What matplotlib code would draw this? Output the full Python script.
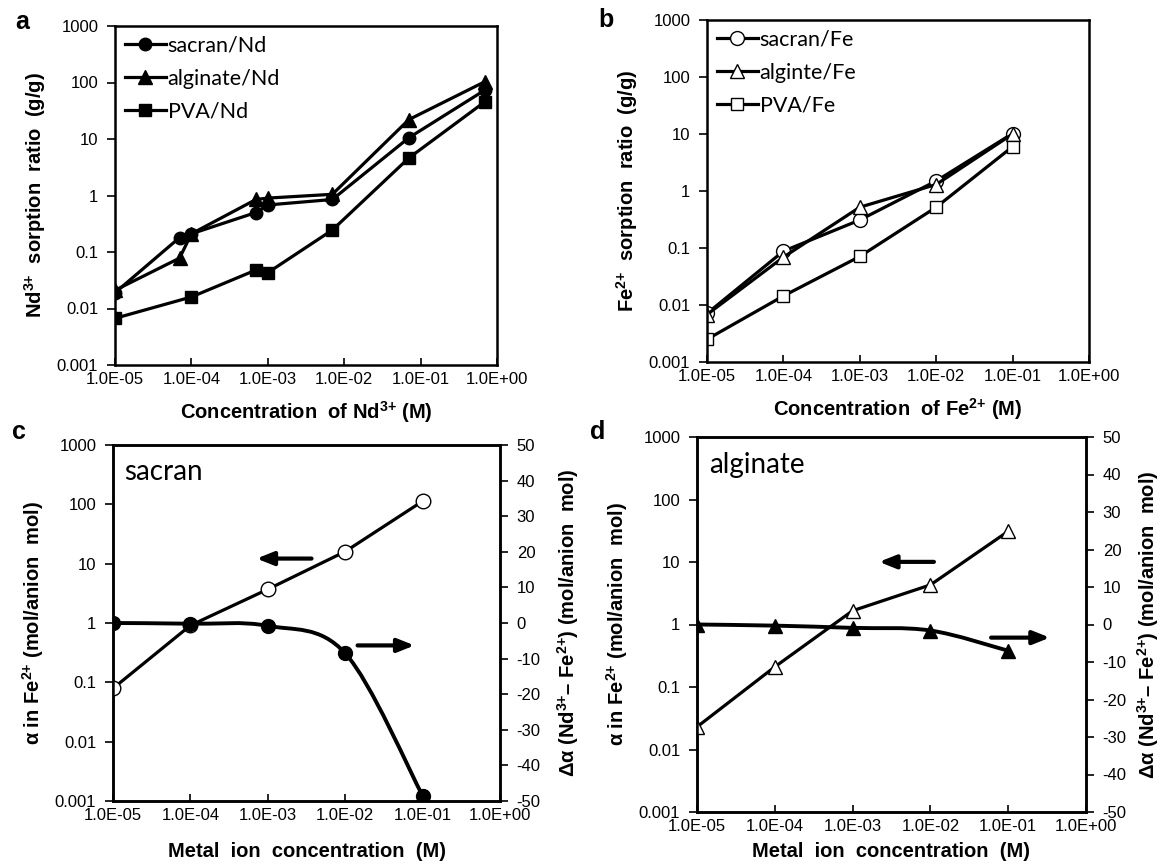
import numpy as np
import matplotlib
matplotlib.use("Agg")
import matplotlib.pyplot as plt
from matplotlib.path import Path
from matplotlib.patches import PathPatch
from matplotlib.ticker import FixedLocator, FixedFormatter

plt.rcParams['font.family'] = ['Liberation Sans', 'DejaVu Sans']
plt.rcParams['mathtext.fontset'] = 'custom'
plt.rcParams['mathtext.rm'] = 'Liberation Sans'
plt.rcParams['mathtext.bf'] = 'Liberation Sans:bold'
plt.rcParams['axes.unicode_minus'] = False

# ---- data ----
# panel a: Nd3+ sorption
nd_x = [1e-5, 7e-5, 1e-4, 7e-4, 1e-3, 7e-3, 7e-2, 7e-1]
sacran_nd = [0.019, 0.18, 0.21, 0.50, 0.68, 0.85, 10.5, 74]
alginate_nd = [0.021, 0.078, 0.21, 0.85, 0.90, 1.05, 22, 104]
pva_nd_x = [1e-5, 1e-4, 7e-4, 1e-3, 7e-3, 7e-2, 7e-1]
pva_nd = [0.0067, 0.016, 0.048, 0.043, 0.245, 4.6, 46]

# panel b: Fe2+ sorption
fe_x = [1e-5, 1e-4, 1e-3, 1e-2, 1e-1]
sacran_fe = [0.0071, 0.088, 0.31, 1.5, 10.2]
alginate_fe = [0.0068, 0.069, 0.52, 1.3, 10.0]
pva_fe = [0.0025, 0.0144, 0.071, 0.52, 6.0]

# panel c/d: alpha and delta alpha
metal_x = [1e-5, 1e-4, 1e-3, 1e-2, 1e-1]
sacran_alpha = [0.079, 0.91, 3.7, 16, 113]
sacran_dalpha = [0.0, -0.2, -0.8, -8.5, -48.5]
alginate_alpha = [0.023, 0.21, 1.66, 4.3, 31]
alginate_dalpha = [0.0, -0.3, -0.9, -1.6, -7.0]

x_ticks = [1e-5, 1e-4, 1e-3, 1e-2, 1e-1, 1e0]
x_labels = ['1.0E-05', '1.0E-04', '1.0E-03', '1.0E-02', '1.0E-01', '1.0E+00']
y_ticks = [1e-3, 1e-2, 1e-1, 1, 10, 100, 1000]
y_labels = ['0.001', '0.01', '0.1', '1', '10', '100', '1000']
r_ticks = list(range(-50, 51, 10))

W, H = 1159, 866
LW = 2.3
MS = 9
TICK_FS = 12
LAB_FS = 14.5
leg_font = ['Lato', 'DejaVu Sans']

fig = plt.figure(figsize=(W / 100, H / 100), dpi=100)


def px_axes(left, right, top, bottom):
    return fig.add_axes([left / W, 1 - bottom / H, (right - left) / W, (bottom - top) / H])


def style_log_axes(ax):
    ax.set_xscale('log')
    ax.set_yscale('log')
    ax.set_xlim(1e-5, 1e0)
    ax.set_ylim(1e-3, 1e3)
    ax.xaxis.set_major_locator(FixedLocator(x_ticks))
    ax.xaxis.set_major_formatter(FixedFormatter(x_labels))
    ax.xaxis.set_minor_locator(FixedLocator([]))
    ax.yaxis.set_major_locator(FixedLocator(y_ticks))
    ax.yaxis.set_major_formatter(FixedFormatter(y_labels))
    ax.yaxis.set_minor_locator(FixedLocator([]))
    ax.tick_params(axis='x', direction='in', length=5, width=1.2, labelsize=TICK_FS, pad=5)
    ax.tick_params(axis='y', direction='out', length=6, width=1.2, labelsize=TICK_FS, pad=6)
    for s in ax.spines.values():
        s.set_linewidth(1.8)


def smooth_path(xs, ys):
    # Excel-like smoothed line: Catmull-Rom converted to cubic Bezier in log-x space
    lx = np.log10(xs)
    y = np.asarray(ys, dtype=float)
    P = np.column_stack([lx, y])
    verts = [P[0]]
    codes = [Path.MOVETO]
    n = len(P)
    for i in range(n - 1):
        p0 = P[i - 1] if i > 0 else P[i]
        p1 = P[i]
        p2 = P[i + 1]
        p3 = P[i + 2] if i + 2 < n else P[i + 1]
        c1 = p1 + (p2 - p0) / 6.0
        c2 = p2 - (p3 - p1) / 6.0
        verts += [c1, c2, p2]
        codes += [Path.CURVE4] * 3
    verts = np.array(verts)
    verts[:, 0] = 10 ** verts[:, 0]
    return Path(verts, codes)


def sup(s):
    return r'$^{\mathbf{' + s[0] + '{' + s[1] + '}}}$'


leg_kw = dict(loc='upper left', frameon=False, prop={'family': leg_font, 'size': 15.5},
              handlelength=1.9, handletextpad=0.1, labelspacing=0.6,
              borderaxespad=0.15, borderpad=0.3, bbox_to_anchor=(0.0, 1.0))

# ---------------- panel a ----------------
ax = px_axes(115, 497, 26, 365)
style_log_axes(ax)
ax.plot(nd_x, sacran_nd, '-o', color='k', lw=LW, ms=MS, label='sacran/Nd')
ax.plot(nd_x, alginate_nd, '-^', color='k', lw=LW, ms=MS + 0.5, label='alginate/Nd')
ax.plot(pva_nd_x, pva_nd, '-s', color='k', lw=LW, ms=MS - 0.5, label='PVA/Nd')
ax.legend(**leg_kw)
ax.set_ylabel('Nd' + sup('3+') + '  sorption  ratio  (g/g)', fontsize=LAB_FS,
              fontweight='bold', labelpad=6)
ax.set_xlabel('Concentration  of Nd' + sup('3+') + ' (M)', fontsize=LAB_FS,
              fontweight='bold', labelpad=9)
fig.text(15 / W, 1 - 22 / H, 'a', fontsize=18, fontweight='bold', va='center', ha='left')

# ---------------- panel b ----------------
ax = px_axes(707, 1089, 20, 362)
style_log_axes(ax)
ax.plot(fe_x, sacran_fe, '-o', color='k', mfc='white', lw=LW, ms=MS + 1, label='sacran/Fe')
ax.plot(fe_x, alginate_fe, '-^', color='k', mfc='white', lw=LW, ms=MS + 1, label='alginte/Fe')
ax.plot(fe_x, pva_fe, '-s', color='k', mfc='white', lw=LW, ms=MS, label='PVA/Fe')
ax.legend(**leg_kw)
ax.set_ylabel('Fe' + sup('2+') + '  sorption  ratio  (g/g)', fontsize=LAB_FS,
              fontweight='bold', labelpad=6)
ax.set_xlabel('Concentration  of Fe' + sup('2+') + ' (M)', fontsize=LAB_FS,
              fontweight='bold', labelpad=9)
fig.text(598 / W, 1 - 20 / H, 'b', fontsize=18, fontweight='bold', va='center', ha='left')


# ---------------- panels c, d ----------------
def alpha_panel(box, alpha, dalpha, mk, name, arrows, letter, letter_pos, xpad, rpad):
    ax = px_axes(*box)
    style_log_axes(ax)
    ax.plot(metal_x, alpha, '-' + mk, color='k', mfc='white', lw=LW, ms=MS + 1.5, zorder=3)
    ax.set_ylabel(r'$\mathbf{\alpha}$ in Fe' + sup('2+') + ' (mol/anion  mol)', fontsize=LAB_FS,
                  fontweight='bold', labelpad=6)
    ax.set_xlabel('Metal  ion  concentration  (M)', fontsize=LAB_FS,
                  fontweight='bold', labelpad=xpad)
    ax.text(0.03, 0.925, name, transform=ax.transAxes, fontsize=20,
            family=leg_font, va='center', ha='left')

    ax2 = ax.twinx()
    ax2.set_ylim(-50, 50)
    ax2.yaxis.set_major_locator(FixedLocator(r_ticks))
    ax2.tick_params(axis='y', direction='out', length=6, width=1.2, labelsize=TICK_FS, pad=6)
    for s in ax2.spines.values():
        s.set_linewidth(1.8)
    ax2.add_patch(PathPatch(smooth_path(metal_x, dalpha), fill=False, lw=LW + 0.5,
                            edgecolor='k', capstyle='round'))
    ax2.plot(metal_x, dalpha, linestyle='none', marker=mk, color='k', ms=MS + 1)
    ax2.set_ylabel(r'$\mathbf{\Delta\alpha}$ (Nd' + sup('3+') + '– Fe' + sup('2+') +
                   ') (mol/anion  mol)', fontsize=LAB_FS, fontweight='bold', labelpad=rpad)

    for (x0, x1, yy) in arrows:
        ax.annotate('', xy=(x1, yy), xytext=(x0, yy), xycoords='axes fraction',
                    arrowprops=dict(arrowstyle='-|>,head_length=1.0,head_width=0.4',
                                    color='k', lw=3.0, shrinkA=0, shrinkB=0))
    fig.text(letter_pos[0] / W, 1 - letter_pos[1] / H, letter, fontsize=18,
             fontweight='bold', va='center', ha='left')


alpha_panel((113, 500, 445, 801), sacran_alpha, sacran_dalpha, 'o', 'sacran',
            [(0.513, 0.371, 0.681), (0.632, 0.779, 0.437)], 'c', (12, 432), 14, 10)
alpha_panel((697, 1086, 437, 812), alginate_alpha, alginate_dalpha, '^', 'alginate',
            [(0.609, 0.468, 0.667), (0.756, 0.907, 0.465)], 'd', (590, 432), 6, 6)

fig.savefig('out.png', dpi=100)
